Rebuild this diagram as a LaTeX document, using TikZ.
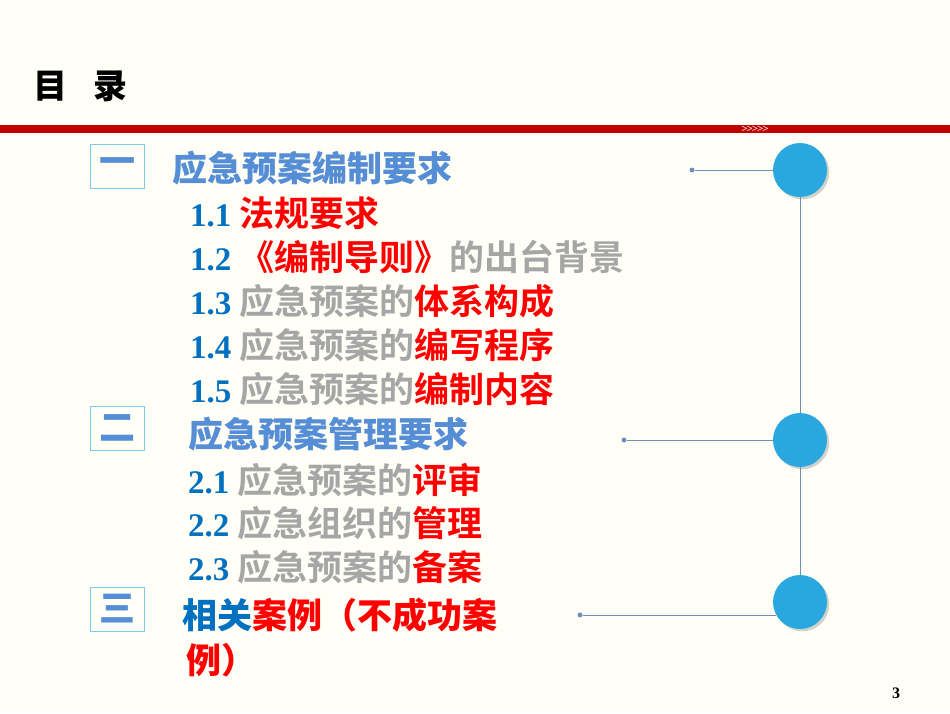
\documentclass[tikz,border=0pt]{standalone}
\usepackage{fontspec}
\usetikzlibrary{shadows}
\setmainfont{Liberation Serif}
\newfontfamily\cjk{Noto Sans CJK SC Black}
\definecolor{tblue}{HTML}{558ED5}
\definecolor{nblue}{HTML}{0070C0}
\definecolor{tgray}{HTML}{A6A6A6}
\definecolor{tred}{HTML}{FF0000}
\definecolor{bar}{HTML}{C00000}
\definecolor{ball}{HTML}{29A7DF}
\definecolor{lnk}{HTML}{6F8FB8}
\begin{document}
\begin{tikzpicture}[x=1pt,y=-1pt,
  txt/.style={anchor=west,inner sep=0pt},
  num/.style={txt,text=nblue,font=\fontsize{33}{34}\selectfont\bfseries},
  cjkf/.style={font=\cjk\fontsize{35}{36}\selectfont},
  numbox/.style={draw=ball!60,line width=1pt,minimum width=54pt,minimum height=44pt,inner sep=0pt,text=tblue,font=\cjk\fontsize{36}{36}\selectfont},
  ballst/.style={circle,fill=ball,minimum size=54pt,inner sep=0pt,drop shadow={opacity=0.35}},
  conn/.style={draw=lnk,line width=1pt},
  dotst/.style={circle,fill=lnk,minimum size=5pt,inner sep=0pt}]
\useasboundingbox (0,0) rectangle (950,713);
\fill[white!97!yellow] (0,0) rectangle (950,713);
\node[anchor=west,inner sep=0pt,font=\cjk\fontsize{34}{36}\selectfont] (title) at (33,86) {目\hspace{26pt}录};
\fill[bar] (0,125) rectangle (950,133);
\node[inner sep=0pt,text=white,font=\bfseries\fontsize{11}{11}\selectfont] (chev) at (755,129) {\char`\>\kern-1pt\char`\>\kern-1pt\char`\>\kern-1pt\char`\>\kern-1pt\char`\>};
% boxes
\node[numbox] (b1) at (117,166) {一};
\node[numbox] (b2) at (117,428) {二};
\node[numbox] (b3) at (117,609) {三};
% text
\node[txt,text=tblue,cjkf] (s1) at (172,168) {应急预案编制要求};
\node[num] (n11) at (190,213) {1.1 \cjk\fontsize{35}{36}\selectfont\textcolor{tred}{法规要求}};
\node[num] (n12) at (190,257) {1.2 \cjk\fontsize{35}{36}\selectfont\textcolor{tred}{《编制导则》}\textcolor{tgray}{的出台背景}};
\node[num] (n13) at (190,301) {1.3 \cjk\fontsize{35}{36}\selectfont\textcolor{tgray}{应急预案的}\textcolor{tred}{体系构成}};
\node[num] (n14) at (190,345) {1.4 \cjk\fontsize{35}{36}\selectfont\textcolor{tgray}{应急预案的}\textcolor{tred}{编写程序}};
\node[num] (n15) at (190,389) {1.5 \cjk\fontsize{35}{36}\selectfont\textcolor{tgray}{应急预案的}\textcolor{tred}{编制内容}};
\node[txt,text=tblue,cjkf] (s2) at (188,434) {应急预案管理要求};
\node[num] (n21) at (188,480) {2.1 \cjk\fontsize{35}{36}\selectfont\textcolor{tgray}{应急预案的}\textcolor{tred}{评审}};
\node[num] (n22) at (188,523) {2.2 \cjk\fontsize{35}{36}\selectfont\textcolor{tgray}{应急组织的}\textcolor{tred}{管理}};
\node[num] (n23) at (188,567) {2.3 \cjk\fontsize{35}{36}\selectfont\textcolor{tgray}{应急预案的}\textcolor{tred}{备案}};
\node[txt,cjkf] (s3) at (182,615) {\textcolor{nblue}{相关}\textcolor{tred}{案例（不成功案}};
\node[txt,text=tred,cjkf] (s3b) at (186,660) {例）};
\node[font=\bfseries\fontsize{16}{16}\selectfont,inner sep=0pt] (pg) at (896,693) {3};
% timeline
\coordinate (c1) at (800,170);
\coordinate (c2) at (800,440);
\coordinate (c3) at (800,602);
\draw[conn] (c1) -- (c3);
\node[dotst] (d1) at (692,170) {};
\node[dotst] (d2) at (624,440) {};
\node[dotst] (d3) at (580,615) {};
\draw[conn] (d1) -- (c1);
\draw[conn] (d2) -- (c2);
\draw[conn] (d3) -- (776,615);
\node[ballst] (k1) at (c1) {};
\node[ballst] (k2) at (c2) {};
\node[ballst] (k3) at (c3) {};
\end{tikzpicture}
\end{document}
